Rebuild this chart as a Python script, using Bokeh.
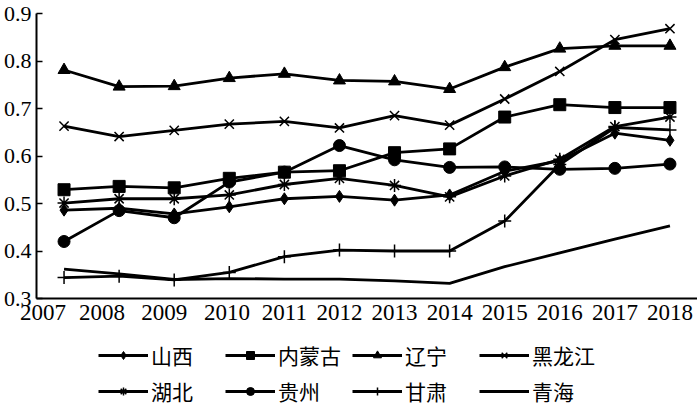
from bokeh.plotting import figure
from bokeh.layouts import column
from bokeh.models import Legend, LegendItem, FixedTicker, CustomJSTickFormatter, Range1d
from bokeh.embed import file_html
from bokeh.resources import INLINE

years = [2007, 2008, 2009, 2010, 2011, 2012, 2013, 2014, 2015, 2016, 2017, 2018]
year_labels = [str(y) for y in years]
# the reference's first year labels sit left of their points
label_shift = [-0.38, -0.31, -0.18, -0.04, 0, 0, 0, 0, 0, 0, 0, 0]

shanxi = [0.486, 0.490, 0.478, 0.493, 0.510, 0.515, 0.507, 0.518, 0.568, 0.590, 0.648, 0.633]
neimenggu = [0.529, 0.536, 0.533, 0.553, 0.566, 0.569, 0.607, 0.615, 0.682, 0.708, 0.702, 0.702]
liaoning = [0.781, 0.746, 0.747, 0.764, 0.773, 0.759, 0.757, 0.741, 0.787, 0.826, 0.832, 0.832]
heilongjiang = [0.663, 0.641, 0.654, 0.667, 0.673, 0.659, 0.685, 0.665, 0.720, 0.778, 0.845, 0.868]
hubei = [0.501, 0.510, 0.510, 0.518, 0.540, 0.553, 0.538, 0.514, 0.558, 0.593, 0.662, 0.682]
guizhou = [0.420, 0.485, 0.470, 0.545, 0.566, 0.622, 0.592, 0.576, 0.577, 0.572, 0.574, 0.583]
gansu = [0.344, 0.347, 0.339, 0.355, 0.388, 0.402, 0.400, 0.400, 0.463, 0.582, 0.660, 0.655]
qinghai = [0.362, 0.352, 0.340, 0.342, 0.341, 0.341, 0.337, 0.332, 0.367, 0.396, 0.425, 0.453]

y_ticks = [0.3, 0.4, 0.5, 0.6, 0.7, 0.8, 0.9]

series = [
    ("山西", shanxi, "diamond"),
    ("内蒙古", neimenggu, "square"),
    ("辽宁", liaoning, "triangle"),
    ("黑龙江", heilongjiang, "x"),
    ("湖北", hubei, "asterisk"),
    ("贵州", guizhou, "circle"),
    ("甘肃", gansu, "cross"),
    ("青海", qinghai, None),
]

p = figure(frame_width=661, frame_height=285, output_backend="svg", toolbar_location=None,
           x_range=Range1d(2006.5, 2018.5), y_range=Range1d(0.3, 0.9),
           min_border_top=13, min_border_right=0, min_border_left=0, min_border_bottom=34)
p.outline_line_color = None
p.xgrid.visible = False
p.ygrid.visible = False
p.background_fill_color = "white"

serif = "Liberation Serif"

p.yaxis.ticker = FixedTicker(ticks=y_ticks)
p.yaxis.major_tick_in = 6
p.yaxis.major_tick_out = 0
p.yaxis.minor_tick_line_color = None
p.yaxis.axis_line_width = 2
p.yaxis.major_tick_line_width = 1.5
p.yaxis.major_label_standoff = 5
p.yaxis.major_label_text_font = serif
p.yaxis.major_label_text_font_size = "22px"
p.yaxis.major_label_text_color = "black"

label_pos = [y + s for y, s in zip(years, label_shift)]
p.xaxis.ticker = FixedTicker(ticks=label_pos)
p.xaxis.formatter = CustomJSTickFormatter(args=dict(pos=label_pos, labs=year_labels), code="""
let best = 0, d = 1e9;
for (let i = 0; i < pos.length; i++) { const e = Math.abs(pos[i] - tick); if (e < d) { d = e; best = i; } }
return labs[best];
""")
p.xaxis.major_tick_in = 0
p.xaxis.major_tick_out = 0
p.xaxis.minor_tick_line_color = None
p.xaxis.axis_line_width = 2
p.xaxis.major_label_standoff = 6
p.xaxis.major_label_text_font = serif
p.xaxis.major_label_text_font_size = "23px"
p.xaxis.major_label_text_color = "black"

# legend strip below the chart (its copies of the series lie outside its empty ranges)
q = figure(width=692, height=74, output_backend="svg", toolbar_location=None,
           x_range=Range1d(0, 1), y_range=Range1d(0, 1),
           x_axis_location=None, y_axis_location=None,
           min_border=0)
q.outline_line_color = None
q.xgrid.visible = False
q.ygrid.visible = False

items = []
for name, vals, marker in series:
    p.line(years, vals, line_color="black", line_width=2.8)
    rs = [q.line(years, vals, line_color="black", line_width=2.8)]
    if marker is not None:
        thin = marker in ("x", "asterisk", "cross")
        kw = dict(marker=marker, fill_color="black", line_color="black",
                  line_width=1.5 if thin else 1)
        p.scatter(years, vals, size=13 if thin else 12, **kw)
        rs.append(q.scatter(years, vals, size=13 if thin else 12, **kw))
    items.append(LegendItem(label=name, renderers=rs))

lg = Legend(items=items, orientation="horizontal", ncols=4, location=(62, 0))
lg.border_line_color = None
lg.background_fill_alpha = 0
lg.glyph_width = 50
lg.glyph_height = 20
lg.label_width = 68
lg.label_standoff = 3
lg.spacing = 6
lg.padding = 0
lg.margin = 0
lg.label_text_font = "Noto Sans CJK SC"
lg.label_text_font_size = "21px"
lg.label_text_color = "black"
q.add_layout(lg, "center")

open("out.html", "w").write(file_html(column(p, q, spacing=0), INLINE))
